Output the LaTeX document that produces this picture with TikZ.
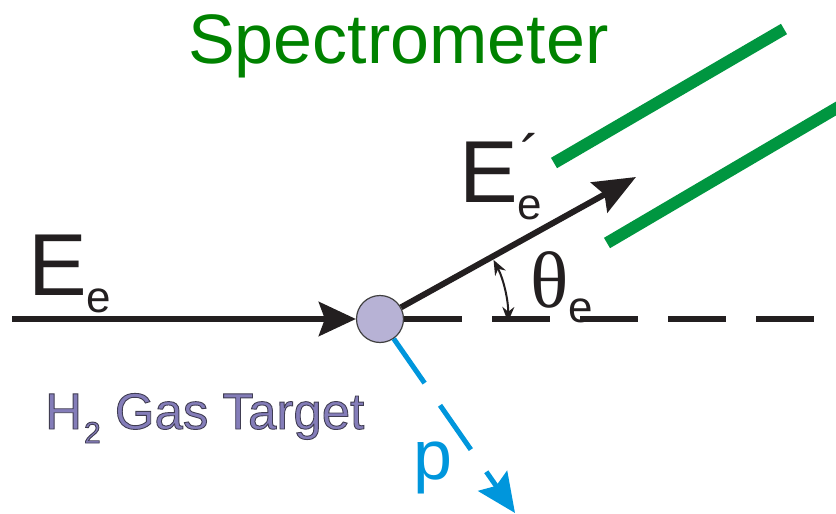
\documentclass[tikz,border=0pt]{standalone}
\usepackage{fontspec}
\setmainfont{Liberation Sans}
\newfontfamily\thetafont{Liberation Serif}
\usepackage{tikz}
\usetikzlibrary{arrows.meta,positioning,calc}
\definecolor{inkblack}{RGB}{35,31,32}
\definecolor{specgreen}{RGB}{0,130,0}
\definecolor{slitgreen}{RGB}{0,150,64}
\definecolor{protonblue}{RGB}{0,150,220}
\definecolor{gaslilac}{RGB}{132,125,185}
\definecolor{targetfill}{RGB}{183,178,213}
\newcommand{\lowsub}[2]{\raisebox{-#1}{\fontsize{44}{44}\rmfamily\selectfont #2}}
\newcommand{\outlined}[1]{\special{pdf:literal direct 2 Tr 0.9 w 0.25 0.24 0.32 RG}#1\special{pdf:literal direct 0 Tr}}

\begin{document}
\begin{tikzpicture}[x=1pt, y=-1pt,
    lbl/.style={inner sep=0pt, anchor=base west, text=inkblack, font=\fontsize{88}{88}\selectfont},
    beam/.style={line width=6pt, color=inkblack},
    slit/.style={line width=12pt, color=slitgreen},
    target/.style={circle, draw=black!75, fill=targetfill, line width=1.2pt,
        minimum size=47pt, inner sep=0pt},
    proton/.style={line width=5pt, color=protonblue, dash pattern=on 54pt off 27pt},
    anglearc/.style={line width=2pt, color=inkblack,
        {Stealth[length=15pt,width=12pt]}-{Stealth[length=15pt,width=12pt]}}
]
    \useasboundingbox (0,0) rectangle (836,514);
    % spectrometer slits
    \draw[slit] (554,163) -- (784,29);
    \draw[slit] (607,243) -- (842,105);
    \node[lbl, text=specgreen, font=\fontsize{70}{70}\selectfont] (spec) at (188,63) {Spectrometer};

    \node[target] (tgt) at (380,319) {};
    \coordinate (ein) at (12,319);
    \coordinate (eout) at (636,177);
    \coordinate (beamend) at (815,319);
    \coordinate (pout) at (515,513);

    \draw[beam, -{Stealth[length=37pt,width=34pt,inset=6pt]}] (ein) -- (tgt.west);
    \draw[beam, dash pattern=on 58pt off 30pt] (tgt.east) -- (beamend);
    \draw[beam, -{Stealth[length=42pt,width=34pt,inset=6pt]}] (tgt) -- (eout);
    \draw[proton, -{Stealth[length=39pt,width=35pt,inset=6pt]}] (tgt) -- (pout);
    \draw[anglearc] ([shift={(1.3:128)}]tgt.center) arc[start angle=1.3, end angle=-27.5, radius=128];

    % labels
    \node[lbl] (ein-lbl) at (28,295) {E\lowsub{17pt}{e}};
    \node[lbl] (eout-lbl) at (459,202)
        {E\rlap{\kern3pt\raisebox{25pt}{\fontsize{60}{60}\selectfont ´}}\lowsub{17pt}{e}};
    \node[lbl, font=\thetafont\fontsize{80}{80}\selectfont] (theta-lbl) at (530,307) {θ\lowsub{15pt}{e}};
    \node[lbl, text=protonblue, font=\fontsize{70}{70}\selectfont] (p-lbl) at (413,479) {p};
    \node[lbl, text=gaslilac, font=\fontsize{51}{51}\selectfont] (gas-lbl) at (45,429)
        {\outlined{H\kern2pt\raisebox{-14pt}{\fontsize{30}{30}\selectfont 2} Gas Target}};
\end{tikzpicture}
\end{document}
